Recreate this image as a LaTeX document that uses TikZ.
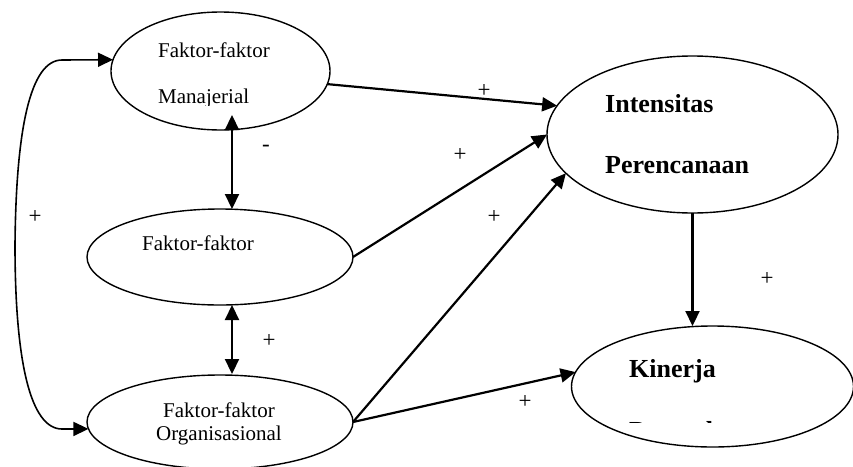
\documentclass[tikz,border=0pt]{standalone}
\usepackage{fontspec}
\setmainfont{Liberation Serif}
\usetikzlibrary{shapes.geometric,arrows.meta}
\begin{document}
\begin{tikzpicture}[x=1pt,y=-1pt,
  oval/.style 2 args={draw,ellipse,line width=1.4pt,inner sep=0pt,outer sep=0pt,
    minimum width=#1,minimum height=#2},
  txt/.style={anchor=base west,inner sep=0pt,font=\fontsize{21}{24}\selectfont},
  btxt/.style={anchor=base west,inner sep=0pt,font=\fontsize{26}{30}\selectfont\bfseries},
  sign/.style={inner sep=0pt,font=\fontsize{23}{25}\selectfont},
  tip/.tip={Triangle[length=15pt,width=14pt]},
  link/.style={line width=2.2pt,-tip},
  dlink/.style={line width=2.2pt,tip-tip},
  loop/.style={line width=1.6pt,tip-tip}]
\useasboundingbox (0,0) rectangle (853,466);
\clip (0,0) rectangle (853,466);

% ellipses
\node[oval={219pt}{118pt}] (man) at (220.5,71) {};
\node[oval={266pt}{96pt}]  (mid) at (220,257) {};
\node[oval={266pt}{94pt}]  (org) at (220,422) {};
\node[oval={291pt}{157pt}] (int) at (692.5,134.5) {};
\node[oval={282pt}{121pt}] (kin) at (712.5,386.5) {};

% texts
\node[txt] (tman1) at (158,57) {Faktor-faktor};
\begin{scope}
  \clip (100,60) rectangle (340,105.5);
  \node[txt] (tman2) at (158,103) {Manajerial};
\end{scope}
\node[txt] (tmid) at (142,250) {Faktor-faktor};
\node[txt] (torg1) at (163,417) {Faktor-faktor};
\node[txt] (torg2) at (156,440) {Organisasional};
\node[btxt] (tint1) at (605,112) {Intensitas};
\node[btxt] (tint2) at (605,173) {Perencanaan};
\node[btxt] (tkin1) at (629,377) {Kinerja};
\begin{scope}
  \clip (580,400) rectangle (840,422.5);
  \node[btxt] (tkin2) at (629,439) {Perusahaan};
\end{scope}

% connectors
\coordinate (mtip) at (232,115);
\coordinate (mbot) at (232,209);
\coordinate (otop) at (232,374);
\coordinate (mlow) at (232,305);
\draw[dlink] (mtip) -- (mbot);
\draw[dlink] (mlow) -- (otop);
\draw[link] (man.-7) -- (int.168);
\draw[link] (mid.east) -- (int.180);
\draw[link] (org.east) -- (int.-163);
\draw[link] (org.east) -- (kin.174);
\draw[link] (int.south) -- (int.south |- kin.north);
\draw[loop] (man.174) -- (62,60) .. controls (30,60) and (16,130) .. (15,245)
  .. controls (15,360) and (30,429) .. (62,429) -- (org.183);

% signs
\node[sign] (s1) at (484,91) {+};
\node[sign] (s2) at (460,155) {+};
\node[sign] (s3) at (494,217) {+};
\node[sign] (s4) at (525,402) {+};
\node[sign] (s5) at (767,279) {+};
\node[sign] (s6) at (269,341) {+};
\node[sign] (s7) at (35,217) {+};
\node[sign] (s8) at (266,148) {-};
\end{tikzpicture}
\end{document}
